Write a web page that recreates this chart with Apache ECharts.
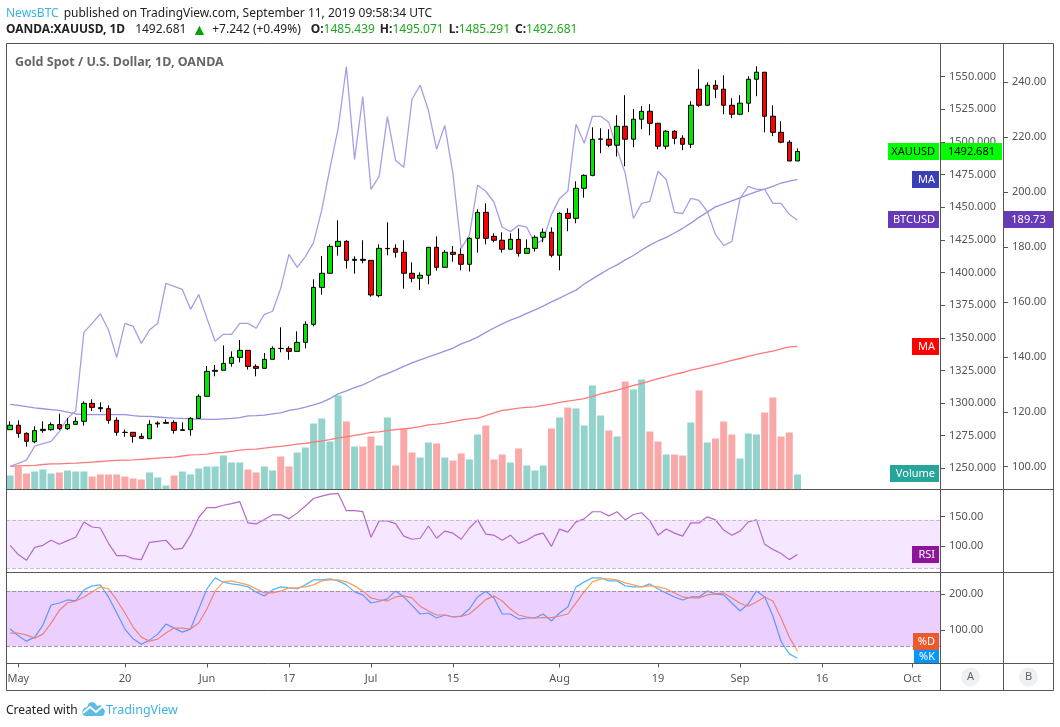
<!DOCTYPE html>
<html>
<head>
<meta charset="utf-8">
<title>XAUUSD</title>
<script src="https://cdn.jsdelivr.net/npm/echarts@6/dist/echarts.min.js"></script>
<style>
    html, body { margin: 0; padding: 0; background: #fff; }
    #main { width: 1060px; height: 727px; }
</style>
</head>
<body>
<div id="main"></div>
<script>
var dates = [
    "04-30", "05-01", "05-02", "05-03", "05-06", "05-07", "05-08", "05-09", "05-10", "05-13",
    "05-14", "05-15", "05-16", "05-17", "05-20", "05-21", "05-22", "05-23", "05-24", "05-27",
    "05-28", "05-29", "05-30", "05-31", "06-03", "06-04", "06-05", "06-06", "06-07", "06-10",
    "06-11", "06-12", "06-13", "06-14", "06-17", "06-18", "06-19", "06-20", "06-21", "06-24",
    "06-25", "06-26", "06-27", "06-28", "07-01", "07-02", "07-03", "07-04", "07-05", "07-08",
    "07-09", "07-10", "07-11", "07-12", "07-15", "07-16", "07-17", "07-18", "07-19", "07-22",
    "07-23", "07-24", "07-25", "07-26", "07-29", "07-30", "07-31", "08-01", "08-02", "08-05",
    "08-06", "08-07", "08-08", "08-09", "08-12", "08-13", "08-14", "08-15", "08-16", "08-19",
    "08-20", "08-21", "08-22", "08-23", "08-26", "08-27", "08-28", "08-29", "08-30", "09-02",
    "09-03", "09-04", "09-05", "09-06", "09-09", "09-10", "09-11", "09-12", "09-13", "09-16",
    "09-17", "09-18", "09-19", "09-20", "09-23", "09-24", "09-25", "09-26", "09-27", "09-30",
    "10-01", "10-02", "10-03", "10-04"
];
var tickDates = ["05-01", "05-20", "06-03", "06-17", "07-01", "07-15", "08-01", "08-19", "09-02", "09-16", "10-01"];
var tickNames = ["May", "20", "Jun", "17", "Jul", "15", "Aug", "19", "Sep", "16", "Oct"];
var priceTicks = [1250, 1275, 1300, 1325, 1350, 1375, 1400, 1425, 1450, 1475, 1500, 1525, 1550];
var btcTicks = [100, 120, 140, 160, 180, 200, 220, 240];
var rsiTicks = [100, 150];
var stochTicks = [100, 200];

// open, close, low, high
var candles = [
    [1279.6, 1283.0, 1279.6, 1286.0], [1283.0, 1276.8, 1273.5, 1286.8], [1276.8, 1270.7, 1266.6, 1277.6], [1270.4, 1278.9, 1269.2, 1282.2],
    [1278.9, 1279.9, 1277.3, 1286.0], [1279.6, 1283.5, 1278.9, 1285.2], [1283.5, 1280.4, 1279.4, 1291.9], [1280.4, 1283.5, 1279.4, 1288.6],
    [1283.7, 1286.0, 1283.7, 1289.1], [1286.0, 1299.8, 1282.7, 1301.3], [1299.8, 1296.7, 1293.9, 1302.9], [1296.5, 1295.7, 1293.2, 1300.6],
    [1295.7, 1286.8, 1284.2, 1298.3], [1286.8, 1277.6, 1275.0, 1289.1], [1277.6, 1277.5, 1274.2, 1279.6], [1277.6, 1274.5, 1269.7, 1277.6],
    [1274.5, 1273.0, 1272.7, 1276.8], [1272.7, 1283.7, 1272.7, 1286.8], [1284.0, 1284.7, 1281.2, 1286.0], [1284.5, 1285.2, 1284.5, 1287.5],
    [1285.2, 1279.1, 1276.6, 1286.8], [1279.1, 1279.6, 1279.1, 1285.2], [1279.6, 1288.3, 1275.0, 1289.1], [1288.3, 1305.2, 1288.3, 1306.7],
    [1305.2, 1324.3, 1305.2, 1328.4], [1324.3, 1325.1, 1320.5, 1329.2], [1325.1, 1330.4, 1325.1, 1344.2], [1330.4, 1335.0, 1327.9, 1339.6],
    [1335.0, 1340.4, 1331.2, 1348.3], [1340.4, 1328.1, 1325.6, 1340.4], [1328.1, 1326.6, 1320.5, 1329.7], [1326.6, 1333.5, 1326.6, 1338.4],
    [1333.5, 1341.9, 1333.5, 1343.5], [1341.9, 1341.8, 1338.9, 1358.0], [1341.9, 1339.6, 1333.2, 1343.5], [1339.6, 1346.5, 1339.6, 1354.9],
    [1346.5, 1360.3, 1341.9, 1362.6], [1360.3, 1388.6, 1358.8, 1394.8], [1388.6, 1399.4, 1383.0, 1412.6], [1399.4, 1420.0, 1399.4, 1421.6],
    [1420.0, 1423.9, 1412.9, 1440.0], [1423.9, 1409.3, 1403.0, 1424.7], [1409.3, 1410.1, 1399.1, 1412.4], [1410.1, 1409.3, 1407.1, 1424.7],
    [1409.3, 1382.8, 1381.5, 1409.3], [1382.3, 1418.5, 1381.0, 1421.6], [1418.2, 1418.5, 1413.2, 1438.4], [1418.5, 1415.5, 1411.4, 1421.6],
    [1415.5, 1399.4, 1387.6, 1424.7], [1399.4, 1395.6, 1392.5, 1407.8], [1395.6, 1397.9, 1386.6, 1400.1], [1397.9, 1419.3, 1391.0, 1419.3],
    [1419.3, 1404.0, 1401.4, 1427.7], [1404.0, 1415.5, 1404.0, 1417.0], [1415.5, 1413.9, 1408.3, 1420.3], [1413.9, 1406.3, 1401.7, 1418.5],
    [1406.3, 1426.2, 1400.7, 1427.0], [1426.2, 1446.1, 1415.2, 1448.4], [1446.1, 1426.2, 1421.6, 1453.0], [1427.7, 1424.7, 1423.1, 1430.0],
    [1424.7, 1417.8, 1415.2, 1430.8], [1417.8, 1425.4, 1417.8, 1430.0], [1425.4, 1414.7, 1412.2, 1433.8], [1414.7, 1418.5, 1414.7, 1425.4],
    [1418.5, 1427.0, 1416.0, 1428.5], [1427.0, 1430.8, 1423.1, 1433.8], [1430.8, 1413.2, 1411.6, 1434.6], [1413.2, 1445.3, 1401.7, 1446.1],
    [1445.3, 1441.5, 1431.6, 1449.2], [1441.5, 1464.5, 1437.7, 1469.9], [1464.5, 1474.4, 1457.3, 1475.2], [1474.4, 1502.0, 1473.7, 1511.2],
    [1502.1, 1502.3, 1491.4, 1510.5], [1502.1, 1497.5, 1496.0, 1509.7], [1497.5, 1512.0, 1488.8, 1520.5], [1512.0, 1502.1, 1481.4, 1535.8],
    [1502.1, 1517.4, 1496.0, 1525.1], [1517.4, 1523.5, 1509.7, 1527.4], [1523.5, 1514.3, 1505.1, 1528.9], [1514.3, 1496.7, 1494.4, 1514.3],
    [1496.7, 1508.2, 1494.4, 1509.0], [1508.2, 1502.8, 1498.2, 1509.0], [1502.8, 1498.2, 1493.7, 1505.1], [1498.2, 1528.1, 1495.2, 1531.2],
    [1540.4, 1528.1, 1526.6, 1555.7], [1528.1, 1543.4, 1527.4, 1545.7], [1543.4, 1540.4, 1533.5, 1547.3], [1540.4, 1528.1, 1521.2, 1551.1],
    [1528.1, 1521.2, 1518.2, 1533.5], [1521.2, 1529.7, 1520.5, 1535.8], [1529.7, 1548.0, 1522.8, 1550.3], [1548.0, 1553.4, 1535.0, 1558.0],
    [1553.4, 1519.7, 1507.4, 1553.4], [1519.7, 1507.4, 1504.4, 1528.1], [1507.4, 1499.8, 1499.0, 1515.9], [1499.8, 1485.4, 1485.4, 1501.3],
    [1485.439, 1492.681, 1485.291, 1495.071]
];
var volumes = [
    14, 23, 16, 18, 20, 16, 17, 19, 18, 18, 13, 15, 15, 15, 13, 11, 10, 17, 12, 4,
    14, 18, 15, 21, 23, 23, 34, 27, 27, 20, 17, 23, 19, 33, 23, 37, 42, 66, 71, 48,
    94, 68, 43, 43, 53, 44, 72, 24, 61, 37, 32, 47, 46, 32, 29, 36, 30, 55, 64, 30,
    35, 27, 41, 24, 19, 24, 61, 72, 82, 81, 64, 104, 74, 59, 53, 108, 100, 110, 58, 48,
    35, 35, 34, 67, 99, 47, 51, 68, 55, 31, 56, 55, 77, 92, 53, 57, 15
];
var btcValues = [
    100.1, 101.2, 102.4, 107.5, 108.4, 109.2, 112.8, 117.6, 120.4, 148.9, 152.2, 155.7, 149.8, 139.8, 152.2, 151.1, 144.9, 149.8, 152.2, 166.8,
    165.7, 164.6, 157.3, 162.7, 154.0, 145.7, 148.2, 148.2, 152.2, 152.2, 150.4, 155.5, 156.6, 165.0, 177.3, 172.6, 176.5, 181.6, 193.5, 208.7,
    223.2, 245.7, 211.9, 234.8, 201.0, 205.7, 227.5, 211.6, 209.0, 233.8, 238.9, 229.8, 215.6, 224.3, 206.5, 179.5, 184.3, 202.5, 200.3, 196.3,
    187.2, 185.6, 187.9, 187.2, 181.1, 182.6, 191.8, 197.7, 200.3, 224.7, 217.8, 227.6, 227.6, 225.4, 215.6, 206.8, 190.4, 195.9, 196.6, 207.6,
    204.6, 192.6, 192.2, 197.7, 197.0, 193.0, 184.6, 180.6, 182.0, 197.7, 202.1, 201.0, 201.0, 195.9, 195.9, 191.9, 189.73
];
var maBlue = [
    122.7, 122.3, 121.9, 121.4, 121.1, 120.8, 120.5, 119.9, 119.2, 119.0, 119.0, 119.0, 119.0, 119.0, 119.0, 118.6, 118.3, 118.3, 118.1, 117.9,
    117.7, 117.6, 117.4, 117.3, 117.2, 117.2, 117.4, 117.6, 117.9, 118.5, 118.6, 118.8, 119.2, 119.6, 120.5, 121.0, 121.7, 122.5, 123.4, 124.8,
    126.5, 127.6, 128.8, 129.8, 131.2, 132.8, 133.9, 135.2, 136.5, 137.8, 138.9, 140.0, 141.0, 142.1, 143.2, 144.7, 145.8, 147.2, 148.9, 150.5,
    152.0, 153.4, 154.5, 155.8, 157.1, 158.5, 160.0, 161.4, 162.9, 164.3, 166.5, 168.4, 170.2, 172.0, 173.5, 175.3, 176.9, 178.9, 180.7, 182.2,
    183.5, 185.1, 186.8, 188.7, 190.8, 192.7, 194.6, 195.7, 196.8, 197.9, 199.1, 200.2, 201.1, 202.1, 203.3, 204.0, 204.6
];
var maRed = [
    100.1, 100.3, 100.4, 100.5, 100.8, 101.0, 101.0, 101.2, 101.3, 101.5, 101.7, 101.9, 102.1, 102.3, 102.4, 102.5, 102.7, 102.9, 103.1, 103.3,
    103.5, 103.9, 104.3, 104.4, 104.6, 105.0, 105.2, 105.6, 106.0, 106.3, 106.4, 106.8, 107.1, 107.4, 107.8, 108.2, 108.5, 109.0, 109.4, 109.9,
    110.5, 110.9, 111.4, 111.9, 112.5, 112.7, 113.1, 113.5, 113.8, 114.1, 114.6, 115.2, 115.5, 115.9, 116.4, 117.0, 117.4, 117.7, 118.6, 119.6,
    120.5, 120.9, 121.3, 121.6, 121.8, 122.3, 122.8, 123.4, 123.9, 124.3, 124.8, 125.6, 126.5, 127.2, 127.9, 128.7, 129.6, 130.3, 131.2, 132.1,
    132.8, 133.6, 134.3, 135.2, 135.8, 136.5, 137.2, 137.9, 138.7, 139.4, 140.2, 140.9, 141.5, 142.1, 142.9, 143.6, 143.8
];
var rsiValues = [
    101.2, 85.6, 75.9, 97.7, 101.2, 109.8, 102.9, 109.2, 114.9, 140.8, 132.2, 130.5, 104.6, 83.9, 83.9, 78.7, 77.0, 106.3, 108.0, 109.8,
    94.3, 96.0, 118.4, 148.3, 164.9, 164.9, 169.0, 171.8, 175.3, 139.1, 137.4, 144.8, 152.9, 152.9, 146.0, 155.7, 167.8, 180.5, 184.5, 187.9,
    189.1, 159.8, 159.8, 158.1, 114.9, 142.6, 142.6, 137.9, 116.7, 111.5, 113.2, 133.9, 113.2, 125.3, 121.8, 111.5, 130.5, 144.2, 120.1, 118.4,
    109.8, 118.4, 104.6, 109.8, 118.4, 121.8, 99.4, 128.7, 123.6, 140.8, 146.0, 158.0, 158.0, 151.1, 158.0, 144.2, 153.4, 156.3, 142.6, 118.4,
    128.7, 121.8, 116.7, 139.1, 139.1, 149.4, 144.2, 127.0, 118.4, 125.3, 140.8, 144.2, 102.9, 94.3, 87.4, 77.0, 85.6
];
var stochK = [
    102.0, 83.1, 68.0, 79.4, 113.3, 170.0, 175.6, 184.1, 181.3, 212.5, 223.8, 226.6, 192.6, 147.3, 102.0, 74.6, 59.5, 70.9, 87.8, 116.2,
    104.8, 93.5, 102.0, 158.6, 215.3, 246.4, 234.2, 229.4, 226.6, 221.0, 206.8, 195.5, 212.5, 221.0, 218.1, 215.3, 226.6, 240.8, 240.8, 243.6,
    237.9, 226.6, 206.8, 198.3, 175.6, 180.4, 187.0, 209.6, 192.6, 169.0, 144.5, 147.3, 133.2, 141.7, 136.0, 138.8, 158.6, 192.6, 208.7, 189.8,
    144.5, 144.5, 130.3, 133.2, 133.2, 144.5, 124.7, 147.3, 164.3, 221.0, 235.1, 246.4, 246.4, 237.9, 237.9, 223.8, 221.0, 221.0, 229.4, 215.3,
    203.9, 192.6, 184.1, 192.6, 192.6, 209.6, 201.1, 198.3, 175.6, 153.0, 172.8, 209.6, 192.6, 138.8, 67.1, 32.2, 19.9
];
var stochD = [
    90.7, 90.7, 85.0, 76.5, 87.8, 119.0, 154.9, 175.6, 181.3, 192.6, 206.8, 221.0, 215.3, 184.1, 147.3, 107.7, 79.4, 68.0, 73.7, 90.7,
    104.8, 104.8, 102.0, 119.0, 158.6, 209.6, 234.2, 237.9, 232.3, 226.6, 215.3, 203.9, 203.9, 209.6, 218.1, 218.1, 221.0, 226.6, 237.9, 240.8,
    240.8, 235.1, 223.8, 209.6, 189.8, 184.1, 181.3, 192.6, 195.5, 189.8, 166.2, 153.0, 141.7, 141.7, 136.0, 137.9, 144.5, 164.3, 185.1, 195.5,
    181.3, 158.6, 141.7, 136.0, 133.2, 134.1, 134.1, 138.8, 144.5, 175.6, 207.7, 235.1, 243.6, 243.6, 240.8, 232.3, 226.6, 221.0, 223.8, 221.0,
    215.3, 203.9, 192.6, 189.8, 189.8, 198.3, 201.1, 203.9, 189.8, 174.7, 166.2, 178.5, 192.6, 181.3, 133.2, 79.4, 39.7
];

var FONT = '"Noto Sans", sans-serif';
var GRID_LINE = '#555';

function isTickDate(index, value) {
    return tickDates.indexOf(value) >= 0;
}

function frameLine(x1, y1, x2, y2) {
    return {
        type: 'line', silent: true, z: 20,
        shape: { x1: x1, y1: y1, x2: x2, y2: y2 },
        style: { stroke: GRID_LINE, lineWidth: 1 }
    };
}

// the little coloured labels sitting by the scales
function tag(x, y, w, h, fill, label, color, align) {
    return {
        type: 'group', silent: true, z: 30,
        children: [
            { type: 'rect', z: 30, shape: { x: x, y: y, width: w, height: h }, style: { fill: fill } },
            {
                type: 'text', z: 31,
                style: {
                    x: align === 'center' ? x + w / 2 : x + w - 4, y: y + h / 2,
                    text: label, fill: color, font: '11px ' + FONT,
                    textAlign: align === 'center' ? 'center' : 'right', textVerticalAlign: 'middle'
                }
            }
        ]
    };
}

function scaleAxis(gridIndex, min, max, ticks, digits, offset) {
    return {
        type: 'value', gridIndex: gridIndex, position: 'right', offset: offset || 0,
        min: min, max: max, scale: true,
        splitLine: { show: false },
        axisLine: { show: false },
        axisTick: { show: true, length: 4, lineStyle: { color: GRID_LINE }, customValues: ticks },
        axisLabel: {
            show: true, margin: 8, color: '#555', fontFamily: FONT, fontSize: 11,
            padding: [2, 0, 0, 0],
            customValues: ticks,
            formatter: function (v) { return v.toFixed(digits); }
        }
    };
}

var volumeData = volumes.map(function (v, i) {
    var up = candles[i][1] >= candles[i][0];
    return { value: v, itemStyle: { color: up ? '#94d3cc' : '#f8a9a7' } };
});

var myChart = echarts.init(document.getElementById('main'));
myChart.setOption({
    animation: false,
    backgroundColor: '#fff',
    title: [
        {
            left: 6, top: 5, padding: 0,
            text: '{a|NewsBTC} {b|published on TradingView.com, September 11, 2019 09:58:34 UTC}',
            textStyle: { rich: {
                a: { color: '#3bb3e4', fontFamily: FONT, fontSize: 12, fontWeight: 'normal' },
                b: { color: '#222', fontFamily: FONT, fontSize: 12, fontWeight: 'normal' }
            } }
        },
        {
            left: 6, top: 21, padding: 0,
            text: '{k|OANDA:XAUUSD, 1D}  {b|1492.681} {g|▲} {b|+7.242 (+0.49%)}  {k|O:}{v|1485.439} {k|H:}{v|1495.071} {k|L:}{v|1485.291} {k|C:}{v|1492.681}',
            textStyle: { rich: {
                k: { color: '#222', fontFamily: FONT, fontSize: 12, fontWeight: 'bold' },
                b: { color: '#222', fontFamily: FONT, fontSize: 12, fontWeight: 'normal' },
                g: { color: '#0a9e0a', fontFamily: FONT, fontSize: 16, lineHeight: 14, fontWeight: 'normal' },
                v: { color: '#1fa81f', fontFamily: FONT, fontSize: 12, fontWeight: 'normal' }
            } }
        },
        {
            left: 15, top: 56, padding: 0,
            text: 'Gold Spot / U.S. Dollar, 1D, OANDA',
            textStyle: { color: '#666', fontFamily: FONT, fontSize: 12.5, fontWeight: 'bold' }
        },
        {
            left: 6, top: 705, padding: 0,
            text: 'Created with',
            textStyle: { color: '#222', fontFamily: FONT, fontSize: 12, fontWeight: 'normal' }
        },
        {
            left: 106, top: 704, padding: 0,
            text: 'TradingView',
            textStyle: { color: '#3bb3e4', fontFamily: FONT, fontSize: 12.5, fontWeight: 'normal' }
        }
    ],
    grid: [
        { left: 6, width: 935, top: 43.5, height: 446 },
        { left: 6, width: 935, top: 489.5, height: 83 },
        { left: 6, width: 935, top: 572.5, height: 91 }
    ],
    xAxis: [
        { type: 'category', gridIndex: 0, data: dates, show: false },
        { type: 'category', gridIndex: 1, data: dates, show: false },
        {
            type: 'category', gridIndex: 2, data: dates,
            axisLine: { show: false },
            axisTick: { show: true, length: 4, alignWithLabel: true, interval: isTickDate, lineStyle: { color: GRID_LINE } },
            axisLabel: {
                interval: isTickDate, margin: 10, color: '#555', fontFamily: FONT, fontSize: 11,
                formatter: function (v) { return tickNames[tickDates.indexOf(v)]; }
            }
        }
    ],
    yAxis: [
        scaleAxis(0, 1233.8, 1575.4, priceTicks, 3),
        scaleAxis(0, 91.7, 254.1, btcTicks, 2, 63),
        { type: 'value', gridIndex: 0, min: 0, max: 446, show: false },
        scaleAxis(1, 55.2, 195.7, rsiTicks, 2),
        scaleAxis(2, 5, 261.5, stochTicks, 2)
    ],
    series: [
        { name: 'Volume', type: 'bar', xAxisIndex: 0, yAxisIndex: 2, barWidth: 7, z: 1, data: volumeData },
        {
            name: 'MA', type: 'line', xAxisIndex: 0, yAxisIndex: 1, symbol: 'none', z: 2, data: maRed,
            lineStyle: { color: '#ff7878', width: 1.3 }
        },
        {
            name: 'MA', type: 'line', xAxisIndex: 0, yAxisIndex: 1, symbol: 'none', z: 2, data: maBlue,
            lineStyle: { color: '#9494e0', width: 1.3 }
        },
        {
            name: 'BTCUSD', type: 'line', xAxisIndex: 0, yAxisIndex: 1, symbol: 'none', z: 2, data: btcValues,
            lineStyle: { color: '#ab9ce6', width: 1.3 }
        },
        {
            name: 'XAUUSD', type: 'candlestick', xAxisIndex: 0, yAxisIndex: 0, barWidth: 5, z: 3, data: candles,
            itemStyle: { color: '#00e600', color0: '#ff0000', borderColor: '#000', borderColor0: '#000', borderWidth: 1 }
        },
        {
            name: 'RSI', type: 'line', xAxisIndex: 1, yAxisIndex: 3, symbol: 'none', z: 2, data: rsiValues,
            lineStyle: { color: '#b568cc', width: 1.2 },
            markArea: { silent: true, itemStyle: { color: 'rgba(153,21,255,0.1)' }, data: [[{ yAxis: 144.3 }, { yAxis: 62.6 }]] },
            markLine: {
                silent: true, symbol: 'none', label: { show: false },
                lineStyle: { color: '#cdb6d8', type: 'dashed', width: 1 },
                data: [{ yAxis: 144.3 }, { yAxis: 62.6 }]
            }
        },
        {
            name: '%K', type: 'line', xAxisIndex: 2, yAxisIndex: 4, symbol: 'none', z: 2, data: stochK,
            lineStyle: { color: '#52b4ff', width: 1.2 }
        },
        {
            name: '%D', type: 'line', xAxisIndex: 2, yAxisIndex: 4, symbol: 'none', z: 2, data: stochD,
            lineStyle: { color: '#ff9f5a', width: 1.2 },
            markArea: { silent: true, z: 5, itemStyle: { color: 'rgba(153,21,255,0.2)' }, data: [[{ yAxis: 209.6 }, { yAxis: 53.8 }]] },
            markLine: {
                silent: true, symbol: 'none', label: { show: false },
                lineStyle: { color: '#a58fa8', type: 'dashed', width: 1 },
                data: [{ yAxis: 209.6 }, { yAxis: 53.8 }]
            }
        }
    ],
    graphic: [
        // pane and scale frame
        frameLine(6.5, 43.5, 1053.5, 43.5),
        frameLine(6.5, 489.5, 1053.5, 489.5),
        frameLine(6.5, 572.5, 1053.5, 572.5),
        frameLine(6.5, 663.5, 1053.5, 663.5),
        frameLine(6.5, 690.5, 1053.5, 690.5),
        frameLine(6.5, 43.5, 6.5, 690.5),
        frameLine(940.5, 43.5, 940.5, 690.5),
        frameLine(1003.5, 43.5, 1003.5, 690.5),
        frameLine(1053.5, 43.5, 1053.5, 690.5),

        tag(888, 143, 51, 17, '#00ff00', 'XAUUSD', '#000'),
        tag(941, 143, 61, 17, '#00ff00', '1492.681', '#000', 'center'),
        tag(912, 171, 27, 17, '#3a3fb5', 'MA', '#fff'),
        tag(888, 211, 51, 17, '#673ab7', 'BTCUSD', '#fff'),
        tag(1004, 211, 49, 17, '#673ab7', '189.73', '#fff', 'center'),
        tag(912, 338, 27, 17, '#ff0000', 'MA', '#fff'),
        tag(890, 465, 49, 17, '#26a69a', 'Volume', '#fff'),
        tag(912, 546, 27, 17, '#8e1599', 'RSI', '#fff'),
        tag(913, 633, 26, 17, '#ea5a2e', '%D', '#fff'),
        tag(914, 650, 25, 13, '#0496ff', '%K', '#fff'),

        // A and B scale buttons
        { type: 'circle', silent: true, z: 25, shape: { cx: 970.5, cy: 677, r: 9.5 }, style: { fill: '#eef0f5' } },
        { type: 'text', silent: true, z: 26, style: { x: 970.5, y: 677, text: 'A', fill: '#666', font: '11px ' + FONT, textAlign: 'center', textVerticalAlign: 'middle' } },
        { type: 'circle', silent: true, z: 25, shape: { cx: 1028.5, cy: 677, r: 9.5 }, style: { fill: '#eef0f5' } },
        { type: 'text', silent: true, z: 26, style: { x: 1028.5, y: 677, text: 'B', fill: '#666', font: '11px ' + FONT, textAlign: 'center', textVerticalAlign: 'middle' } },

        // TradingView logo
        {
            type: 'polygon', silent: true, z: 25,
            shape: { points: [[82, 712], [84, 708], [87, 707], [89, 703], [92, 702], [95, 703], [97, 706], [101, 705], [103, 708], [105, 711], [104, 715], [102, 716], [85, 716], [83, 715]] },
            style: { fill: '#5bbce4' }
        },
        {
            type: 'polyline', silent: true, z: 26,
            shape: { points: [[83, 713], [90, 707], [96, 712], [103, 706]] },
            style: { fill: 'none', stroke: '#fff', lineWidth: 2 }
        }
    ]
});
</script>
</body>
</html>
